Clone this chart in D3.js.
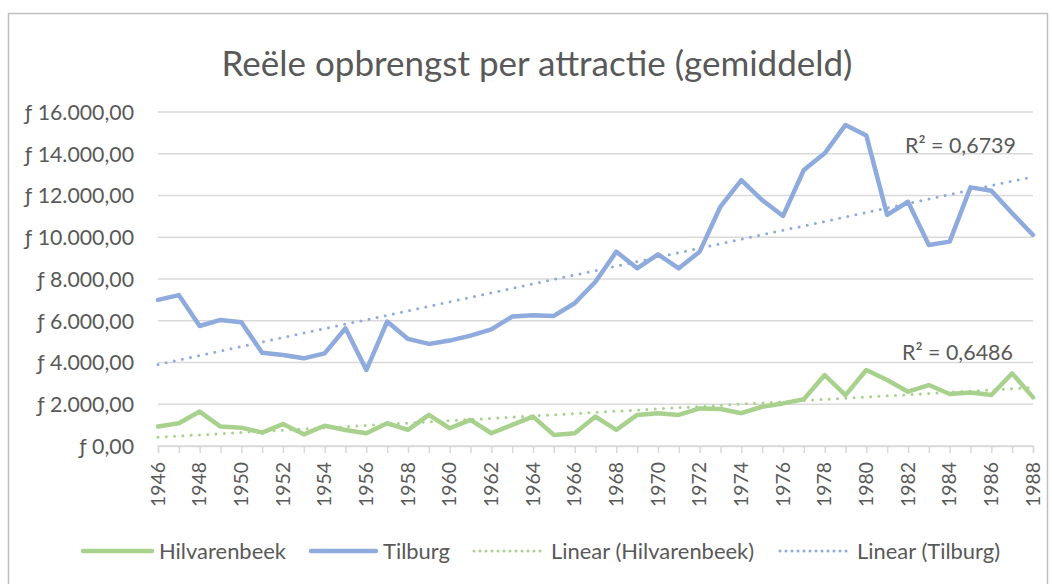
<!DOCTYPE html>
<html>
<head>
<meta charset="utf-8">
<script src="https://cdn.jsdelivr.net/npm/d3@7"></script>
<style>
  html, body { margin: 0; padding: 0; background: #fff; }
  svg { display: block; }
  text { font-family: Lato, "Open Sans", sans-serif; fill: #595959; }
</style>
</head>
<body>
<svg id="chart" width="1052" height="584"></svg>
<script>
// ---- data ----
const years = d3.range(1946, 1989);
const hilvarenbeek = [930, 1090, 1650, 930, 880, 640, 1050, 560, 970, 770, 610, 1090, 770, 1490, 850,
  1250, 610, 1010, 1410, 530, 610, 1410, 770, 1490, 1570, 1490, 1800, 1770, 1570, 1880, 2040,
  2240, 3400, 2440, 3640, 3160, 2600, 2920, 2490, 2560, 2440, 3480, 2330];
const tilburg = [7000, 7230, 5750, 6040, 5930, 4470, 4360, 4200, 4440, 5640, 3640, 5960, 5130, 4890, 5050,
  5290, 5590, 6200, 6260, 6230, 6840, 7870, 9310, 8510, 9180, 8510, 9310, 11470, 12740, 11780, 11020,
  13220, 14020, 15380, 14870, 11070, 11700, 9630, 9790, 12390, 12230, 11150, 10110];
const yTicks = [0, 2000, 4000, 6000, 8000, 10000, 12000, 14000, 16000];
const xLabelYears = years.filter(y => (y - 1946) % 2 === 0);
const seriesNames = ["Hilvarenbeek", "Tilburg"];
const legendLabels = ["Hilvarenbeek", "Tilburg", "Linear (Hilvarenbeek)", "Linear (Tilburg)"];
const r2Labels = ["R² = 0,6486", "R² = 0,6739"];
const title = "Reële opbrengst per attractie (gemiddeld)";
const colors = { Hilvarenbeek: "#A9D18E", Tilburg: "#8FAADC" };

// ---- setup ----
const svg = d3.select("#chart");
const W = 1052, H = 584;
const plot = { left: 158, right: 1033, top: 112, bottom: 446 };

const x = d3.scaleLinear().domain([1946, 1988]).range([plot.left, plot.right]);
const y = d3.scaleLinear().domain([0, 16000]).range([plot.bottom, plot.top]);

// frame
svg.append("rect").attr("x", 8.5).attr("y", 13.5).attr("width", 1039).attr("height", 620)
  .attr("fill", "#fff").attr("stroke", "#BFBFBF").attr("stroke-width", 1.5);

function fit(sel, target, base = 20) {
  sel.style("font-size", base + "px");
  const len = sel.node().getComputedTextLength();
  const size = base * target / len;
  sel.style("font-size", size + "px");
  return size;
}

// title
const t = svg.append("text").attr("x", 537).attr("y", 62).attr("text-anchor", "middle")
  .attr("dominant-baseline", "central").text(title);
fit(t, 631);

// gridlines
const nf = v => "ƒ " + d3.format(",.2f")(v).replace(/,/g, "#").replace(/\./g, ",").replace(/#/g, ".");
const grid = svg.append("g");
grid.selectAll("line").data(yTicks).join("line")
  .attr("x1", plot.left).attr("x2", plot.right)
  .attr("y1", d => y(d)).attr("y2", d => y(d))
  .attr("stroke", "#D9D9D9").attr("stroke-width", 1.5);

// y axis labels
const yAxis = d3.axisLeft(y).tickValues(yTicks).tickFormat(nf).tickSize(0).tickPadding(0);
const yg = svg.append("g").attr("transform", `translate(134,0)`).call(yAxis);
yg.select(".domain").remove();
yg.selectAll("text").attr("dy", "0.35em").style("fill", "#595959").style("font-family", "Lato");
const probe = svg.append("text").text(nf(16000));
const ySize = fit(probe, 109);
probe.remove();
yg.selectAll("text").style("font-size", ySize + "px");

// x axis ticks
const xAxis = d3.axisBottom(x).tickValues(years).tickSize(7).tickFormat("");
const xg = svg.append("g").attr("transform", `translate(0,${plot.bottom})`).call(xAxis);
xg.select(".domain").attr("stroke", "#D9D9D9").attr("stroke-width", 1.5);
xg.selectAll(".tick line").attr("stroke", "#D9D9D9").attr("stroke-width", 1.5);

// x labels (every 2 years), rotated
const probe2 = svg.append("text").text("1946");
const xSize = fit(probe2, 45);
probe2.remove();
svg.append("g").selectAll("text").data(xLabelYears).join("text")
  .attr("transform", d => `translate(${x(d)},462) rotate(-90)`)
  .attr("text-anchor", "end").attr("dy", "0.35em")
  .style("font-size", xSize + "px")
  .text(d => d);

// lines
const line = d3.line().x((d, i) => x(years[i])).y(d => y(d));
const seriesData = { Hilvarenbeek: hilvarenbeek, Tilburg: tilburg };
seriesNames.forEach(n => {
  svg.append("path").datum(seriesData[n]).attr("d", line)
    .attr("fill", "none").attr("stroke", colors[n]).attr("stroke-width", 4.5)
    .attr("stroke-linejoin", "round").attr("stroke-linecap", "round");
});

// trendlines (least squares)
function regress(vals) {
  const n = vals.length;
  const mx = d3.mean(years), my = d3.mean(vals);
  let sxy = 0, sxx = 0;
  years.forEach((yr, i) => { sxy += (yr - mx) * (vals[i] - my); sxx += (yr - mx) ** 2; });
  const b = sxy / sxx, a = my - b * mx;
  return yr => a + b * yr;
}
seriesNames.forEach(n => {
  const f = regress(seriesData[n]);
  svg.append("line")
    .attr("x1", x(1946)).attr("y1", y(f(1946)))
    .attr("x2", x(1988)).attr("y2", y(f(1988)))
    .attr("stroke", colors[n]).attr("stroke-width", 3)
    .attr("stroke-dasharray", "0,8.3").attr("stroke-linecap", "round");
});

// R² labels
const r2pos = [{ x: 902, y: 352 }, { x: 905, y: 145 }];
r2Labels.forEach((lab, i) => {
  const tt = svg.append("text").attr("x", r2pos[i].x).attr("y", r2pos[i].y)
    .attr("dominant-baseline", "central").text(lab);
  fit(tt, 111);
});

// legend
const legendItems = [
  { label: legendLabels[0], color: colors.Hilvarenbeek, dotted: false, x0: 83, x1: 152, tx: 159 },
  { label: legendLabels[1], color: colors.Tilburg, dotted: false, x0: 311, x1: 376, tx: 383 },
  { label: legendLabels[2], color: colors.Hilvarenbeek, dotted: true, x0: 474, x1: 543, tx: 551 },
  { label: legendLabels[3], color: colors.Tilburg, dotted: true, x0: 780, x1: 850, tx: 857 }
];
const probe3 = svg.append("text").text(legendLabels[0]);
const lSize = fit(probe3, 127);
probe3.remove();
const lg = svg.append("g");
legendItems.forEach(it => {
  lg.append("line").attr("x1", it.x0).attr("x2", it.x1).attr("y1", 551).attr("y2", 551)
    .attr("stroke", it.color).attr("stroke-width", it.dotted ? 3 : 4.5)
    .attr("stroke-linecap", "round")
    .attr("stroke-dasharray", it.dotted ? "0,6" : null);
  lg.append("text").attr("x", it.tx).attr("y", 550).attr("dominant-baseline", "central")
    .style("font-size", lSize + "px").text(it.label);
});
</script>
</body>
</html>
